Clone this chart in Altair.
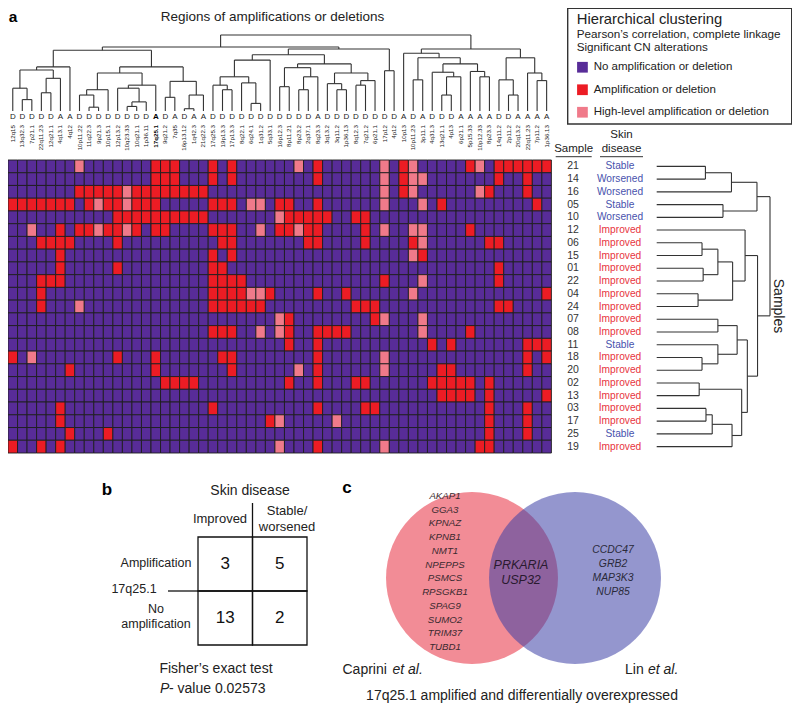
import altair as alt
import pandas as pd

FONT = "Liberation Sans"
INK = "#222222"

# ---------------- data ----------------
regions = ["12q15", "13q32.3", "7p21.1", "22q11.23", "12q21.1", "4q13.1", "4q12",
           "10p11.22", "11q22.3", "9p21.3", "10p15.1", "12p13.2", "10q23.33", "10q21.1",
           "1p36.11", "17q25.1", "9q21.2", "7q35", "16p13.12", "1q42.3", "21q22.3",
           "17q25.3", "19p13.3", "17p13.3", "8q22.1", "6q24.1", "1q31.2", "5q33.1",
           "16p12.3", "8p11.21", "8p23.2", "2q37.1", "8q23.3", "3q13.2", "3q11.2",
           "1p36.13", "8q12.3", "7q21.2", "6p21.1", "17p12", "4p12", "10p13",
           "10p11.23", "3p11.1", "4q31.3", "13q21.1", "4p13", "6p21.1", "5p15.33",
           "10p12.33", "8p23.3", "14q11.2", "2p11.2", "20q13.2", "22q11.23", "7p11.2",
           "1p36.13"]
cn_type = list("DDDDDAA" "DDDDDDDD" "ADADAA" "DDDDDDDDDDD" "A" "DDDDDDDD" "ADADDDAAAADDAAAA")
highlight = "17q25.1"

samples = ["21", "14", "16", "05", "10", "12", "06", "15", "01", "22", "04", "24",
           "07", "08", "11", "18", "20", "02", "13", "03", "17", "25", "19"]
skin = ["Stable", "Worsened", "Worsened", "Stable", "Worsened"] + ["Improved"] * 9 + \
       ["Stable"] + ["Improved"] * 6 + ["Stable", "Improved"]

states = ["No amplification or deletion", "Amplification or deletion",
          "High-level amplification or deletion"]

# columns (0-based) with an amplification/deletion, per sample row
red_cells = {
    0: [15, 16, 17, 21, 23, 32, 41, 48, 51, 52, 53, 54, 55, 56],
    1: [15, 16, 17, 21, 23, 32, 41, 51, 54],
    2: [7, 8, 9, 10, 11, 13, 14, 15, 16, 17, 18, 19, 20, 41, 50, 54],
    3: [0, 1, 2, 3, 4, 5, 6, 8, 10, 11, 13, 14, 15, 21, 22, 23, 28, 29, 32, 45, 55],
    4: [11, 12, 13, 14, 15, 16, 17, 18, 19, 20, 29, 30, 31, 32, 33, 36, 37],
    5: [5, 7, 8, 10, 11, 13, 15, 16, 21, 22, 23, 28, 29, 31, 32, 37, 48],
    6: [3, 4, 5, 6, 11, 22, 23, 31, 32, 37, 42, 50, 51],
    7: [5, 21, 23, 43],
    8: [5, 11, 21, 22, 51],
    9: [3, 4, 5, 21, 22, 23, 24, 39, 51],
    10: [3, 21, 22, 23, 24, 27, 32, 35, 56],
    11: [3, 21, 22, 23, 24, 25, 26, 36, 37, 38, 51, 52],
    12: [29, 38],
    13: [21, 22, 23, 29, 32, 33, 34, 35, 48],
    14: [29, 32, 44, 46, 54, 55, 56],
    15: [0, 11, 15, 22, 23, 32, 54, 56],
    16: [6, 15, 23, 32, 45, 46, 54],
    17: [16, 17, 18, 19, 29, 32, 36, 37, 44, 45, 46, 47, 48, 50],
    18: [45, 46, 47, 48, 50, 56],
    19: [5, 21, 32, 37, 38, 50, 54],
    20: [5, 27, 50, 54],
    21: [6, 10, 50, 54],
    22: [0, 3, 5, 32, 49, 50],
}
# columns with a high-level amplification/deletion, per sample row
pink_cells = {
    0: [7, 30, 39, 42, 49], 1: [39, 42, 43], 2: [12, 39, 42, 49],
    3: [9, 12, 25, 26, 39, 43], 4: [28], 5: [2, 9, 12, 26, 30, 39, 42, 43],
    6: [43], 7: [42], 9: [43], 10: [25, 26, 42], 11: [7], 12: [28, 39, 43],
    13: [26, 28, 43], 15: [2, 39], 16: [30, 39], 20: [28, 34], 22: [28, 39],
}

# clustering trees: [left, right, linkage distance]; leaves are column / row indices
g0 = [[[0, [1, 2, 0.15], 0.30], [[3, 4, 0.24], 5, 0.43], 0.54], 6, 0.58]
g1 = [[[7, [8, 9, 0.05], 0.21], 10, 0.28], [[11, [[12, 13, 0.06], 14, 0.12], 0.30], 15, 0.34], 0.50]
g2 = [[16, 17, 0.18], [[18, 19, 0.03], 20, 0.21], 0.39]
r1 = [[[21, [22, 23, 0.28], 0.34], [24, [25, 26, 0.10], 0.37], 0.45], 27, 0.67]
r2 = [[[28, 29, 0.32], [[30, 31, 0.28], 32, 0.45], 0.57],
      [[33, [34, 35, 0.28], 0.36], [[36, 37, 0.34], 38, 0.40], 0.50], 0.62]
b1 = [41, [[42, 43, 0.41], [[44, [[45, 46, 0.21], 47, 0.45], 0.51], [48, [49, 50, 0.45], 0.52], 0.62], 0.70], 0.76]
b2 = [[51, [52, 53, 0.21], 0.41], [54, [55, 56, 0.40], 0.50], 0.70]
col_tree = [
    [[g0, [g1, g2, 0.58], 0.80], [[r1, r2, 0.74], [39, 40, 0.53], 0.816], 0.842],
    [b1, b2, 0.816],
    1.0]
row_tree = [
    [[[0, 1, 0.43], 2, 0.66], [3, 4, 0.585], 0.885],
    [[5, [[[6, 7, 0.40], [8, 9, 0.41], 0.54], [10, 11, 0.365], 0.67], 0.78],
     [[[12, 13, 0.54], [14, [15, 16, 0.40], 0.54], 0.71],
      [[17, 18, 0.375], [[[19, 20, 0.435], 21, 0.49], 22, 0.665], 0.75], 0.80], 0.89],
    1.0]

table_cols = ["Improved", "Stable/worsened"]
table_rows = ["Amplification", "No amplification"]
table_counts = [[3, 5], [13, 2]]

venn_sets = ["Caprini et al.", "Lin et al."]
caprini_only = ["AKAP1", "GGA3", "KPNAZ", "KPNB1", "NMT1", "NPEPPS", "PSMCS", "RPSGKB1",
                "SPAG9", "SUMO2", "TRIM37", "TUBD1"]
shared_genes = ["PRKARIA", "USP32"]
lin_only = ["CCDC47", "GRB2", "MAP3K3", "NUP85"]

# ---------------- layout helpers ----------------
W, H = 543.4, 293.0
OX, OY = 8.0, 160.0
NC, NR = len(regions), len(samples)


def px(x):
    return x - OX


def py(y):
    return y - OY


PURPLE, RED, PINK = "#582c98", "#ec1c24", "#f07a8a"
T_RED, T_BLUE = "#e8343e", "#4852ad"

one = pd.DataFrame({"k": [0]})


def label(txt, x, y, size, color=INK, **kw):
    return alt.Chart(one).mark_text(text=txt, fontSize=size, font=FONT, color=color, **kw).encode(
        x=alt.value(px(x)), y=alt.value(py(y)))


def rule(x1, y1, x2, y2, color="#333333", width=1.0):
    return alt.Chart(one).mark_rule(color=color, strokeWidth=width).encode(
        x=alt.value(px(x1)), x2=alt.value(px(x2)), y=alt.value(py(y1)), y2=alt.value(py(y2)))


def dendro(tree):
    segs = []

    def rec(node):
        if isinstance(node, int):
            return node + 0.5, 0.0
        left, right, h = node
        xl, hl = rec(left)
        xr, hr = rec(right)
        segs.append(dict(a=xl, b=xr, h1=h, h2=h))
        segs.append(dict(a=xl, b=xl, h1=hl, h2=h))
        segs.append(dict(a=xr, b=xr, h1=hr, h2=h))
        return (xl + xr) / 2, h

    rec(tree)
    return pd.DataFrame(segs)


colscale = alt.Scale(domain=[0, NC], range=[0, W], nice=False, zero=False)
rowscale = alt.Scale(domain=[0, NR], range=[0, H], nice=False, zero=False)

# ---------------- panel a ----------------
cells = []
for r in range(NR):
    for c in range(NC):
        st = 2 if c in pink_cells.get(r, []) else (1 if c in red_cells.get(r, []) else 0)
        cells.append(dict(c0=c, c1=c + 1, r0=r, r1=r + 1, state=states[st],
                          region=regions[c], sample=samples[r]))
cells = pd.DataFrame(cells)

heat = alt.Chart(cells).mark_rect(stroke="#1e1e1e", strokeWidth=0.9).encode(
    x=alt.X("c0:Q", scale=colscale, axis=None), x2="c1:Q",
    y=alt.Y("r0:Q", scale=rowscale, axis=None), y2="r1:Q",
    color=alt.Color("state:N", scale=alt.Scale(domain=states, range=[PURPLE, RED, PINK]),
                    legend=alt.Legend(orient="none", legendX=px(576.7), legendY=py(61.5),
                                      title=None, symbolType="square", symbolSize=115,
                                      symbolStrokeWidth=0, labelFont=FONT, labelFontSize=11.5,
                                      labelColor=INK, rowPadding=9.5, labelOffset=5.5,
                                      labelLimit=400, padding=0)),
)

cseg = dendro(col_tree)
col_dend = alt.Chart(cseg).mark_rule(color="#333333", strokeWidth=1.1).encode(
    x=alt.X("a:Q", scale=colscale, axis=None), x2="b:Q",
    y=alt.Y("h1:Q", scale=alt.Scale(domain=[0, 1], range=[py(111), py(35)], nice=False, zero=False),
            axis=None), y2="h2:Q")

lab_df = pd.DataFrame({"pos": [i + 0.5 for i in range(NC)], "region": regions, "type": cn_type})
reg_norm = alt.Chart(lab_df).transform_filter(alt.datum.region != highlight).mark_text(
    angle=270, align="right", baseline="middle", fontSize=6.2, font=FONT, color=INK).encode(
    x=alt.X("pos:Q", scale=colscale, axis=None), y=alt.value(py(125)), text="region:N")
reg_bold = alt.Chart(lab_df).transform_filter(alt.datum.region == highlight).mark_text(
    angle=270, align="right", baseline="middle", fontSize=6.2, font=FONT, color="#000",
    fontWeight="bold").encode(
    x=alt.X("pos:Q", scale=colscale, axis=None), y=alt.value(py(125)), text="region:N")
typ_norm = alt.Chart(lab_df).transform_filter(alt.datum.region != highlight).mark_text(
    fontSize=8, font=FONT, color=INK).encode(
    x=alt.X("pos:Q", scale=colscale, axis=None), y=alt.value(py(116.7)), text="type:N")
typ_bold = alt.Chart(lab_df).transform_filter(alt.datum.region == highlight).mark_text(
    fontSize=8, font=FONT, color="#000", fontWeight="bold").encode(
    x=alt.X("pos:Q", scale=colscale, axis=None), y=alt.value(py(116.7)), text="type:N")

samp_df = pd.DataFrame({"pos": [r + 0.5 for r in range(NR)], "sample": samples, "skin": skin})
samp_txt = alt.Chart(samp_df).mark_text(fontSize=10.5, font=FONT, color="#333333").encode(
    y=alt.Y("pos:Q", scale=rowscale, axis=None), x=alt.value(px(573)), text="sample:N")
skin_txt = alt.Chart(samp_df).mark_text(fontSize=10.2, font=FONT).encode(
    y=alt.Y("pos:Q", scale=rowscale, axis=None), x=alt.value(px(620)), text="skin:N",
    color=alt.Color("skin:N", scale=alt.Scale(domain=["Improved", "Stable", "Worsened"],
                                              range=[T_RED, T_BLUE, T_BLUE]), legend=None))

rseg = dendro(row_tree)
row_dend = alt.Chart(rseg).mark_rule(color="#333333", strokeWidth=1.1).encode(
    y=alt.Y("a:Q", scale=rowscale, axis=None), y2="b:Q",
    x=alt.X("h1:Q", scale=alt.Scale(domain=[0, 1], range=[px(656.7), px(770)], nice=False, zero=False),
            axis=None), x2="h2:Q")

legend_box = alt.Chart(one).mark_rect(filled=False, stroke="#333333", strokeWidth=1.4).encode(
    x=alt.value(px(567.7)), x2=alt.value(px(791.7)), y=alt.value(py(8.3)), y2=alt.value(py(124)))

panel_a = [
    heat, col_dend, reg_norm, reg_bold, typ_norm, typ_bold, samp_txt, skin_txt, row_dend, legend_box,
    label("a", 13, 22, 15.5, fontWeight="bold", color="#000", baseline="alphabetic"),
    label("Regions of amplifications or deletions", 272.5, 16.5, 13.5),
    label("Hierarchical clustering", 576.7, 19.5, 14.8, align="left"),
    label("Pearson\u2019s correlation, complete linkage", 576.7, 33.5, 11.7, align="left"),
    label("Significant CN alterations", 576.7, 47, 11.7, align="left"),
    label("Sample", 573.7, 149, 11.5),
    label("Skin", 621.5, 135, 11.5),
    label("disease", 621.5, 148.5, 11.5),
    rule(555.7, 156.7, 591.7, 156.7, color="#333333", width=1),
    rule(600, 156.7, 643, 156.7, color="#333333", width=1),
    label("Samples", 778, 306, 14, angle=90),
]

# ---------------- panel b ----------------
tab_df = pd.DataFrame([dict(col=c, row=r, n=table_counts[i][j])
                       for i, r in enumerate(table_rows) for j, c in enumerate(table_cols)])
tx = alt.Scale(domain=table_cols, range=[px(198), px(307)], paddingInner=0, paddingOuter=0)
ty = alt.Scale(domain=table_rows, range=[py(537), py(645)], paddingInner=0, paddingOuter=0)
tab = alt.Chart(tab_df).mark_rect(filled=False, stroke="#111111", strokeWidth=1.3).encode(
    x=alt.X("col:N", scale=tx, axis=None), y=alt.Y("row:N", scale=ty, axis=None))
tab_n = alt.Chart(tab_df).mark_text(fontSize=17, font=FONT, color="#111111").encode(
    x=alt.X("col:N", scale=tx, axis=None, bandPosition=0.5),
    y=alt.Y("row:N", scale=ty, axis=None, bandPosition=0.5), text="n:Q")

panel_b = [
    tab, tab_n,
    rule(168, 591, 198, 591, color="#111111", width=1.3),
    rule(252.5, 503, 252.5, 537, color="#111111", width=1.3),
    label("b", 107, 490, 17, fontWeight="bold", color="#000"),
    label("Skin disease", 250, 491, 14),
    label("Improved", 220, 519, 13),
    label("Stable/", 287, 511, 13),
    label("worsened", 287, 527, 13),
    label("Amplification", 156, 563, 12.5),
    label("17q25.1", 134, 589, 12.5),
    label("No", 156, 609, 12.5),
    label("amplification", 156, 624, 12.5),
    label("Fisher\u2019s exact test", 216, 669, 14),
    label("P", 160, 689, 14, fontStyle="italic", align="left"),
    label("- value 0.02573", 169, 689, 14, align="left"),
]

# ---------------- panel c ----------------
venn_df = pd.DataFrame({"set": venn_sets})
venn = alt.Chart(venn_df).mark_circle(size=29560, strokeWidth=0).encode(
    x=alt.X("set:N", scale=alt.Scale(type="point", domain=venn_sets, range=[px(472), px(575)], padding=0),
            axis=None),
    y=alt.value(py(578)),
    color=alt.Color("set:N", scale=alt.Scale(domain=venn_sets, range=["#f28c96", "#3d40a6"]), legend=None),
    opacity=alt.Opacity("set:N", scale=alt.Scale(domain=venn_sets, range=[1.0, 0.55]), legend=None),
)
cap_df = pd.DataFrame({"gene": caprini_only, "i": list(range(len(caprini_only)))})
cap_txt = alt.Chart(cap_df).mark_text(fontSize=9.7, font=FONT, fontStyle="italic", color="#3a2a30").encode(
    x=alt.value(px(445)),
    y=alt.Y("i:Q", scale=alt.Scale(domain=[0, len(caprini_only) - 1], range=[py(496), py(647)]), axis=None),
    text="gene:N")
sh_df = pd.DataFrame({"gene": shared_genes, "i": list(range(len(shared_genes)))})
sh_txt = alt.Chart(sh_df).mark_text(fontSize=12.5, font=FONT, fontStyle="italic", color="#2a1a30").encode(
    x=alt.value(px(521)),
    y=alt.Y("i:Q", scale=alt.Scale(domain=[0, 1], range=[py(565), py(580)]), axis=None),
    text="gene:N")
lin_df = pd.DataFrame({"gene": lin_only, "i": list(range(len(lin_only)))})
lin_txt = alt.Chart(lin_df).mark_text(fontSize=10.4, font=FONT, fontStyle="italic", color="#2a2a3a").encode(
    x=alt.value(px(613)),
    y=alt.Y("i:Q", scale=alt.Scale(domain=[0, len(lin_only) - 1], range=[py(550), py(592)]), axis=None),
    text="gene:N")

panel_c = [
    venn, cap_txt, sh_txt, lin_txt,
    label("c", 347, 488, 17, fontWeight="bold", color="#000"),
    label("Caprini", 342.5, 670, 14, align="left"),
    label("et al.", 392.5, 670, 14, align="left", fontStyle="italic"),
    label("Lin", 625, 670, 14, align="left"),
    label("et al.", 648, 670, 14, align="left", fontStyle="italic"),
    label("17q25.1 amplified and differentially overexpressed", 522, 696, 14),
]

chart = alt.layer(*(panel_a + panel_b + panel_c)).resolve_scale(
    x="independent", y="independent", color="independent", opacity="independent"
).properties(
    width=W, height=H,
    padding={"left": 0, "top": 152, "right": 784 - W, "bottom": 698 - 152 - H},
    autosize=alt.AutoSizeParams(type="none"),
    background="white",
).configure_view(strokeWidth=0)

chart.save("out.html", embed_options={"renderer": "svg", "actions": False})
